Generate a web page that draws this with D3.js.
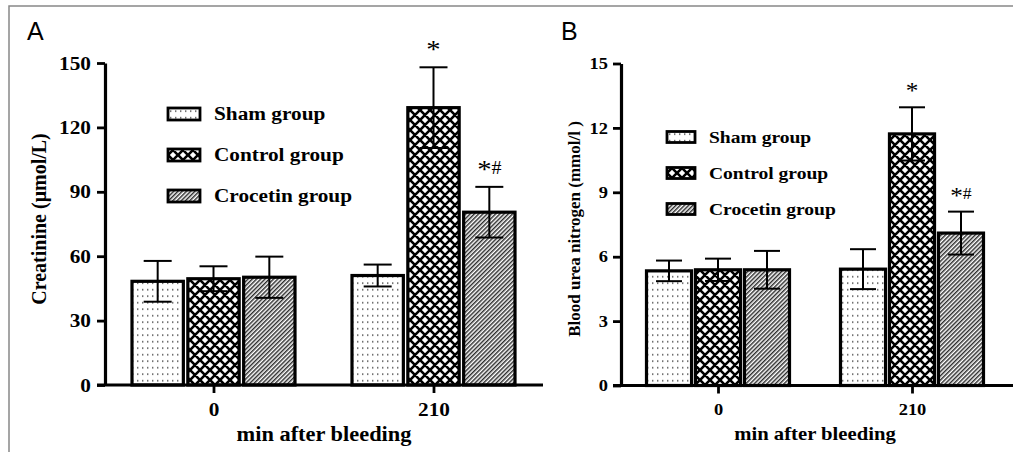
<!DOCTYPE html>
<html>
<head>
<meta charset="utf-8">
<script src="https://cdn.jsdelivr.net/npm/d3@7"></script>
<style>
  html, body { margin: 0; padding: 0; background: #fff; }
  svg { display: block; }
  text { font-family: "Liberation Serif", "Times New Roman", serif; font-weight: bold; fill: #000; }
</style>
</head>
<body>
<svg width="1013" height="452"></svg>
<script>
// ---- data ----
var times = ["0", "210"];
var groups = ["Sham group", "Control group", "Crocetin group"];

// creatinine (umol/L), one row per group, one value per time point
var creatinineMeans = [[48.3, 51.0], [49.5, 129.2], [50.2, 80.5]];
var creatinineSD    = [[9.5, 5.1],   [5.8, 18.8],   [9.6, 11.8]];
var creatinineTicks = [0, 30, 60, 90, 120, 150];
var creatinineMarks = [["Control group", "210", "*"], ["Crocetin group", "210", "*#"]];

// blood urea nitrogen (mmol/l)
var bunMeans = [[5.34, 5.42], [5.39, 11.72], [5.39, 7.1]];
var bunSD    = [[0.48, 0.93], [0.52, 1.24],  [0.88, 1.0]];
var bunTicks = [0, 3, 6, 9, 12, 15];
var bunMarks = [["Control group", "210", "*"], ["Crocetin group", "210", "*#"]];

var svg = d3.select("svg");

// frame around the figure
svg.append("path")
    .attr("d", "M9,452V6H1013")
    .attr("fill", "none")
    .attr("stroke", "#888")
    .attr("stroke-width", 1.5);

// ---- fill patterns ----
var defs = svg.append("defs");

var dots = defs.append("pattern").attr("id", "pat-sham")
    .attr("patternUnits", "userSpaceOnUse").attr("width", 5).attr("height", 6.5);
dots.append("rect").attr("width", 5).attr("height", 6.5).attr("fill", "#fff");
dots.append("rect").attr("x", 2).attr("y", 3).attr("width", 1.4).attr("height", 1.4).attr("fill", "#444");

var cross = defs.append("pattern").attr("id", "pat-control")
    .attr("patternUnits", "userSpaceOnUse").attr("width", 10).attr("height", 10);
cross.append("rect").attr("width", 10).attr("height", 10).attr("fill", "#fff");
cross.append("path")
    .attr("d", "M-1,-1L11,11M-1,11L11,-1M4,-6L16,6M-6,4L6,16M4,16L16,4M-6,6L6,-6")
    .attr("stroke", "#000").attr("stroke-width", 2.6);

var hatch = defs.append("pattern").attr("id", "pat-crocetin")
    .attr("patternUnits", "userSpaceOnUse").attr("width", 3).attr("height", 3)
    .attr("patternTransform", "rotate(45)");
hatch.append("rect").attr("width", 3).attr("height", 3).attr("fill", "#fff");
hatch.append("line").attr("x1", 0.75).attr("y1", 0).attr("x2", 0.75).attr("y2", 3)
    .attr("stroke", "#222").attr("stroke-width", 1.4);

var fills = d3.scaleOrdinal().domain(groups)
    .range(["url(#pat-sham)", "url(#pat-control)", "url(#pat-crocetin)"]);

// text stretched sideways like the scanned figure
function placeText(sel, x, y, sx) {
  return sel.attr("transform", "translate(" + x + "," + y + ") scale(" + sx + ",1)");
}

function drawPanel(p) {
  var g = svg.append("g");

  var y = d3.scaleLinear().domain([0, p.ticks[p.ticks.length - 1]]).range([p.bottom, p.top]);
  var x = d3.scalePoint().domain(times).range(p.centers);
  var xg = d3.scaleBand().domain(groups)
      .range([-p.groupWidth / 2, p.groupWidth / 2]).paddingInner(0.08);

  var rows = [];
  groups.forEach(function(grp, i) {
    times.forEach(function(t, j) {
      rows.push({group: grp, time: t, mean: p.means[i][j], sd: p.sd[i][j]});
    });
  });

  // bars
  g.selectAll("rect.bar")
      .data(rows)
    .enter().append("rect")
      .attr("class", "bar")
      .attr("x", function(d) { return x(d.time) + xg(d.group); })
      .attr("y", function(d) { return y(d.mean); })
      .attr("width", xg.bandwidth())
      .attr("height", function(d) { return y(0) - y(d.mean); })
      .attr("fill", function(d) { return fills(d.group); })
      .attr("stroke", "#000")
      .attr("stroke-width", 3.2);

  // error bars
  var err = g.selectAll("g.err")
      .data(rows)
    .enter().append("g")
      .attr("class", "err")
      .attr("transform", function(d) { return "translate(" + (x(d.time) + xg(d.group) + xg.bandwidth() / 2) + ",0)"; })
      .attr("stroke", "#000")
      .attr("stroke-width", 2);
  err.append("line")
      .attr("y1", function(d) { return y(d.mean - d.sd); })
      .attr("y2", function(d) { return y(d.mean + d.sd); });
  err.append("line")
      .attr("x1", -p.cap / 2).attr("x2", p.cap / 2)
      .attr("y1", function(d) { return y(d.mean + d.sd); })
      .attr("y2", function(d) { return y(d.mean + d.sd); });
  err.append("line")
      .attr("x1", -p.cap / 2).attr("x2", p.cap / 2)
      .attr("y1", function(d) { return y(d.mean - d.sd); })
      .attr("y2", function(d) { return y(d.mean - d.sd); });

  // significance marks
  p.marks.forEach(function(m) {
    var r = rows.filter(function(d) { return d.group == m[0] && d.time == m[1]; })[0];
    var t = g.append("text")
        .attr("text-anchor", "middle")
        .style("font-weight", "normal")
        .style("font-size", p.markSize + "px");
    placeText(t, x(r.time) + xg(r.group) + xg.bandwidth() / 2, y(r.mean + r.sd) - p.markGap, 1.1);
    t.append("tspan").text("*");
    if (m[2].length > 1) {
      t.append("tspan").text(m[2].slice(1))
          .attr("dy", -4)
          .style("font-size", (p.markSize * 0.7) + "px");
    }
  });

  // y axis
  var yAxis = g.append("g")
      .attr("transform", "translate(" + p.left + ",0)")
      .call(d3.axisLeft(y).tickValues(p.ticks).tickSize(p.tick).tickSizeOuter(0).tickPadding(p.yPad));
  yAxis.select(".domain").attr("stroke", "#000").attr("stroke-width", 3.2);
  yAxis.selectAll(".tick line").attr("stroke", "#000").attr("stroke-width", 2.8);
  yAxis.selectAll(".tick text")
      .attr("fill", "#000")
      .style("font-size", p.tickSize + "px")
      .attr("transform", "scale(" + p.stretch + ",1)")
      .attr("x", -(p.tick + p.yPad) / p.stretch);

  // x axis
  g.append("line")
      .attr("x1", p.axisStart).attr("x2", p.axisEnd)
      .attr("y1", y(0)).attr("y2", y(0))
      .attr("stroke", "#000").attr("stroke-width", 3.2);
  var xAxis = g.append("g")
      .attr("transform", "translate(0," + y(0) + ")")
      .call(d3.axisBottom(x).tickSize(p.tick).tickSizeOuter(0).tickPadding(p.xPad));
  xAxis.select(".domain").remove();
  xAxis.selectAll(".tick line").attr("stroke", "#000").attr("stroke-width", 2.8);
  xAxis.selectAll(".tick text")
      .attr("fill", "#000")
      .style("font-size", p.tickSize + "px")
      .attr("transform", "scale(" + p.stretch + ",1)");

  // axis titles
  var xt = g.append("text").attr("text-anchor", "middle")
      .style("font-size", p.xTitleSize + "px").text("min after bleeding");
  placeText(xt, p.xTitle[0], p.xTitle[1], p.stretch);

  g.append("text")
      .attr("text-anchor", "middle")
      .attr("transform", "translate(" + p.yTitle[0] + "," + p.yTitle[1] + ") rotate(-90)")
      .style("font-size", p.yTitleSize + "px")
      .text(p.yLabel);

  // panel letter
  g.append("text")
      .attr("x", p.letter[0]).attr("y", p.letter[1])
      .style("font-family", "'Liberation Sans', Arial, sans-serif")
      .style("font-weight", "normal")
      .style("font-size", "25px")
      .text(p.name);

  // legend
  var leg = g.selectAll("g.legend")
      .data(groups)
    .enter().append("g")
      .attr("class", "legend")
      .attr("transform", function(d, i) { return "translate(" + p.legend[0] + "," + (p.legend[1] + i * p.legendStep) + ")"; });
  leg.append("rect")
      .attr("x", 0).attr("y", -p.box[1] / 2)
      .attr("width", p.box[0]).attr("height", p.box[1])
      .attr("fill", function(d) { return fills(d); })
      .attr("stroke", "#000").attr("stroke-width", 2.8);
  leg.append("text")
      .style("font-size", p.legendSize + "px")
      .attr("transform", "translate(" + (p.box[0] + 14) + "," + (p.legendSize * 0.33) + ") scale(" + p.stretch + ",1)")
      .text(function(d) { return d; });
}

drawPanel({
  name: "A", means: creatinineMeans, sd: creatinineSD, ticks: creatinineTicks, marks: creatinineMarks,
  yLabel: "Creatinine (\u03bcmol/L)",
  top: 63, bottom: 385, left: 105, axisStart: 97, axisEnd: 543,
  centers: [213.5, 433.5], groupWidth: 163, cap: 28,
  tick: 8, yPad: 6, xPad: 10, tickSize: 19, stretch: 1.12,
  xTitle: [324, 441], xTitleSize: 20, yTitle: [46, 219], yTitleSize: 20,
  markSize: 26, markGap: 9,
  letter: [27, 40],
  legend: [168, 114], legendStep: 41, box: [32, 12], legendSize: 19
});

drawPanel({
  name: "B", means: bunMeans, sd: bunSD, ticks: bunTicks, marks: bunMarks,
  yLabel: "Blood urea nitrogen (mmol/l )",
  top: 63.5, bottom: 385.5, left: 621, axisStart: 613, axisEnd: 1013,
  centers: [718, 912], groupWidth: 143, cap: 26,
  tick: 8, yPad: 5, xPad: 10, tickSize: 16, stretch: 1.15,
  xTitle: [815, 440], xTitleSize: 18, yTitle: [580, 229], yTitleSize: 17,
  markSize: 23, markGap: 9,
  letter: [561, 40],
  legend: [667, 137], legendStep: 36, box: [28, 11], legendSize: 17
});
</script>
</body>
</html>
